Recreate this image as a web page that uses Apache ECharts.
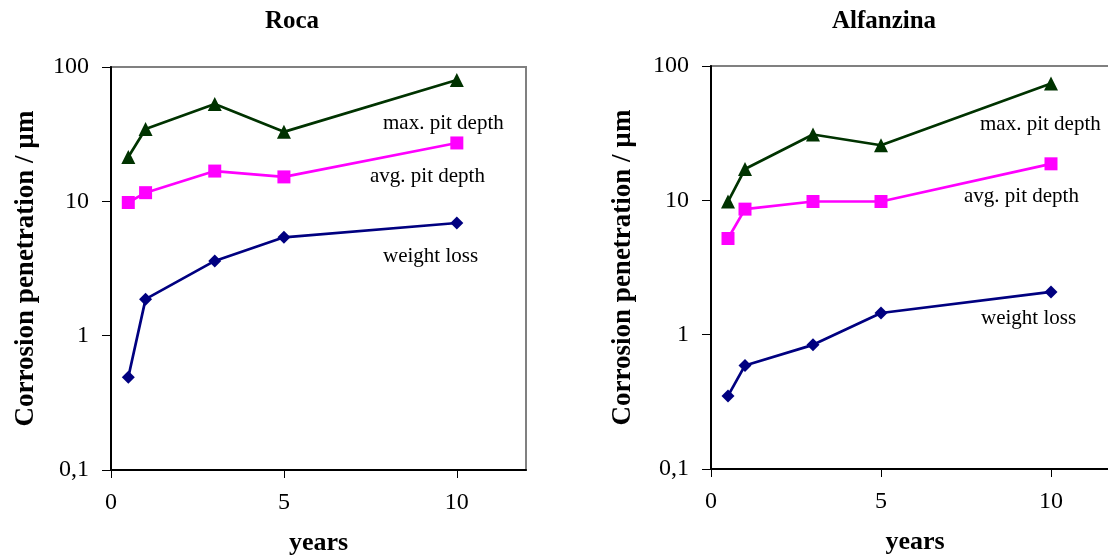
<!DOCTYPE html>
<html>
<head>
<meta charset="utf-8">
<script src="https://cdn.jsdelivr.net/npm/echarts@6/dist/echarts.min.js"></script>
<style>html,body{margin:0;padding:0;background:#fff}#c{width:1108px;height:557px}</style>
</head>
<body>
<div id="c"></div>
<script>
const years = [0.5, 1, 3, 5, 10];
const rocaMax = [21.4, 34.6, 53, 32.9, 80];
const rocaAvg = [9.8, 11.6, 16.8, 15.2, 27.2];
const rocaWeight = [0.49, 1.87, 3.6, 5.4, 6.9];
const alfMax = [9.8, 17.1, 30.9, 25.7, 74];
const alfAvg = [5.2, 8.6, 9.8, 9.8, 18.7];
const alfWeight = [0.35, 0.59, 0.84, 1.45, 2.08];
const panelTitles = ['Roca', 'Alfanzina'];
const seriesNames = ['max. pit depth', 'avg. pit depth', 'weight loss'];
const xTicks = [0, 5, 10];
const yTicks = [0.1, 1, 10, 100];

const FONT = '"Liberation Serif", "Times New Roman", serif';
const colors = ['#003300', '#FF00FF', '#000080'];
const symbols = ['triangle', 'rect', 'diamond'];
const symSizes = [14, 13, 13];

function pairs(vals) { return years.map((x, i) => [x, vals[i]]); }

const grids = [
  {left: 111, top: 67, width: 415, height: 403},
  {left: 711, top: 66, width: 408, height: 403}
];
const yNameGaps = [71, 74];

const chart = echarts.init(document.getElementById('c'), null, {renderer: 'canvas'});
const panels = [[rocaMax, rocaAvg, rocaWeight], [alfMax, alfAvg, alfWeight]];

const titleStyle = {fontFamily: FONT, fontWeight: 'bold', fontSize: 25, color: '#000'};
const option = {
  animation: false,
  backgroundColor: '#fff',
  title: [
    {text: panelTitles[0], left: 292, top: 9, padding: 0, textAlign: 'center', textStyle: titleStyle},
    {text: panelTitles[1], left: 884, top: 9, padding: 0, textAlign: 'center', textStyle: titleStyle}
  ],
  grid: grids.map(g => Object.assign({show: true, borderColor: '#808080', borderWidth: 2, backgroundColor: 'transparent', containLabel: false, outerBoundsMode: 'none'}, g)),
  xAxis: [0, 1].map(i => ({
    type: 'value', gridIndex: i, min: 0, max: 12, interval: 5,
    name: 'years', nameLocation: 'middle', nameGap: 60,
    nameTextStyle: {fontFamily: FONT, fontWeight: 'bold', fontSize: 26, color: '#000'},
    axisLine: {show: true, onZero: false, lineStyle: {color: '#000', width: 2}},
    axisTick: {show: true, length: 8, lineStyle: {color: '#000', width: 1}, customValues: xTicks},
    axisLabel: {fontFamily: FONT, fontSize: 24, color: '#000', margin: 21, customValues: xTicks},
    splitLine: {show: false}
  })),
  yAxis: [0, 1].map(i => ({
    type: 'log', logBase: 10, gridIndex: i, min: 0.1, max: 100,
    name: 'Corrosion penetration / µm', nameLocation: 'middle', nameGap: yNameGaps[i],
    nameTextStyle: {fontFamily: FONT, fontWeight: 'bold', fontSize: 27, color: '#000'},
    axisLine: {show: true, lineStyle: {color: '#000', width: 2}},
    axisTick: {show: true, length: 9, lineStyle: {color: '#000', width: 1}},
    minorTick: {show: false},
    axisLabel: {fontFamily: FONT, fontSize: 24, color: '#000', margin: 22,
      formatter: v => (Math.abs(v - 0.1) < 1e-9 ? '0,1' : String(Math.round(v)))},
    splitLine: {show: false}
  })),
  series: [],
  graphic: []
};

panels.forEach((p, pi) => {
  p.forEach((vals, si) => {
    option.series.push({
      name: seriesNames[si] + ' ' + panelTitles[pi],
      type: 'line', xAxisIndex: pi, yAxisIndex: pi,
      data: pairs(vals),
      symbol: symbols[si], symbolSize: symSizes[si], showSymbol: true,
      lineStyle: {color: colors[si], width: 2.7},
      itemStyle: {color: colors[si]},
      z: 3 - si
    });
  });
});

const labelPos = [
  [[383, 125], [370, 178], [383, 258]],
  [[980, 126], [964, 198], [981, 320]]
];
labelPos.forEach((pp, pi) => pp.forEach((pos, si) => {
  option.graphic.push({
    type: 'text', left: pos[0], top: pos[1] - 12,
    style: {text: seriesNames[si], font: '21px ' + FONT, fill: '#000'}
  });
}));

chart.setOption(option);
</script>
</body>
</html>
